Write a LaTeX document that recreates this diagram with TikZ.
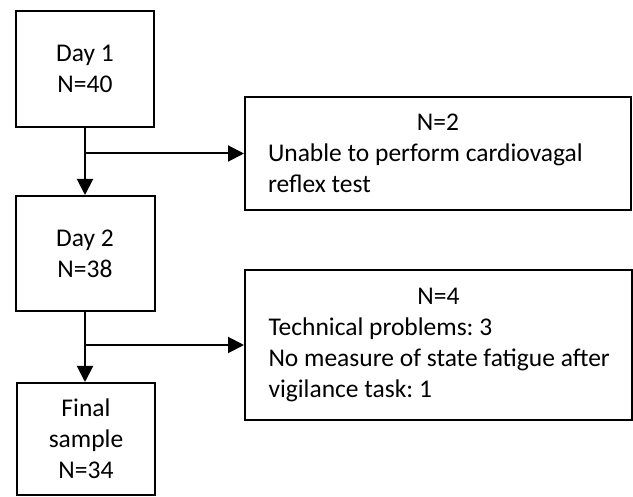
\documentclass[tikz,border=0pt]{standalone}
\usepackage{fontspec}
\setmainfont{Carlito}
\frenchspacing
\usetikzlibrary{arrows.meta}

\begin{document}
\begin{tikzpicture}[x=1pt, y=-1pt, line width=2pt,
	stage/.style={draw, align=center, inner sep=0pt, font=\fontsize{25.5}{31}\selectfont},
	excl/.style={draw, align=flush left, text width=340pt, inner xsep=23pt, inner ysep=0pt, font=\fontsize{25.5}{31}\selectfont},
	flow/.style={-{Triangle[length=16pt, width=16pt]}}]
		\useasboundingbox (0, 0) rectangle (633, 497);
		\node[stage, minimum width=138pt, minimum height=116pt] (day1) at (85, 69) {Day 1\\N=40};
		\node[stage, minimum width=139pt, minimum height=115pt] (day2) at (85, 253.5) {Day 2\\N=38};
		\node[stage, minimum width=138pt, minimum height=112pt] (final) at (86, 439) {Final\\sample\\N=34};
		\node[excl, minimum width=386pt, minimum height=113pt] (drop1) at (438, 153.5)
			{\makebox[\hsize]{N=2}\\Unable to perform cardiovagal\\reflex test};
		\node[excl, minimum width=387pt, minimum height=150pt] (drop2) at (438.5, 345)
			{\makebox[\hsize]{N=4}\\Technical problems: 3\\\mbox{No measure of state fatigue after}\\vigilance task: 1};
		\draw[flow] (day1.south) to (day1.south |- day2.north);
		\draw[flow] (day1.south |- drop1.west) to (drop1.west);
		\draw[flow] (day2.south) to (day2.south |- final.north);
		\draw[flow] (day2.south |- drop2.west) to (drop2.west);
	\end{tikzpicture}
\end{document}
